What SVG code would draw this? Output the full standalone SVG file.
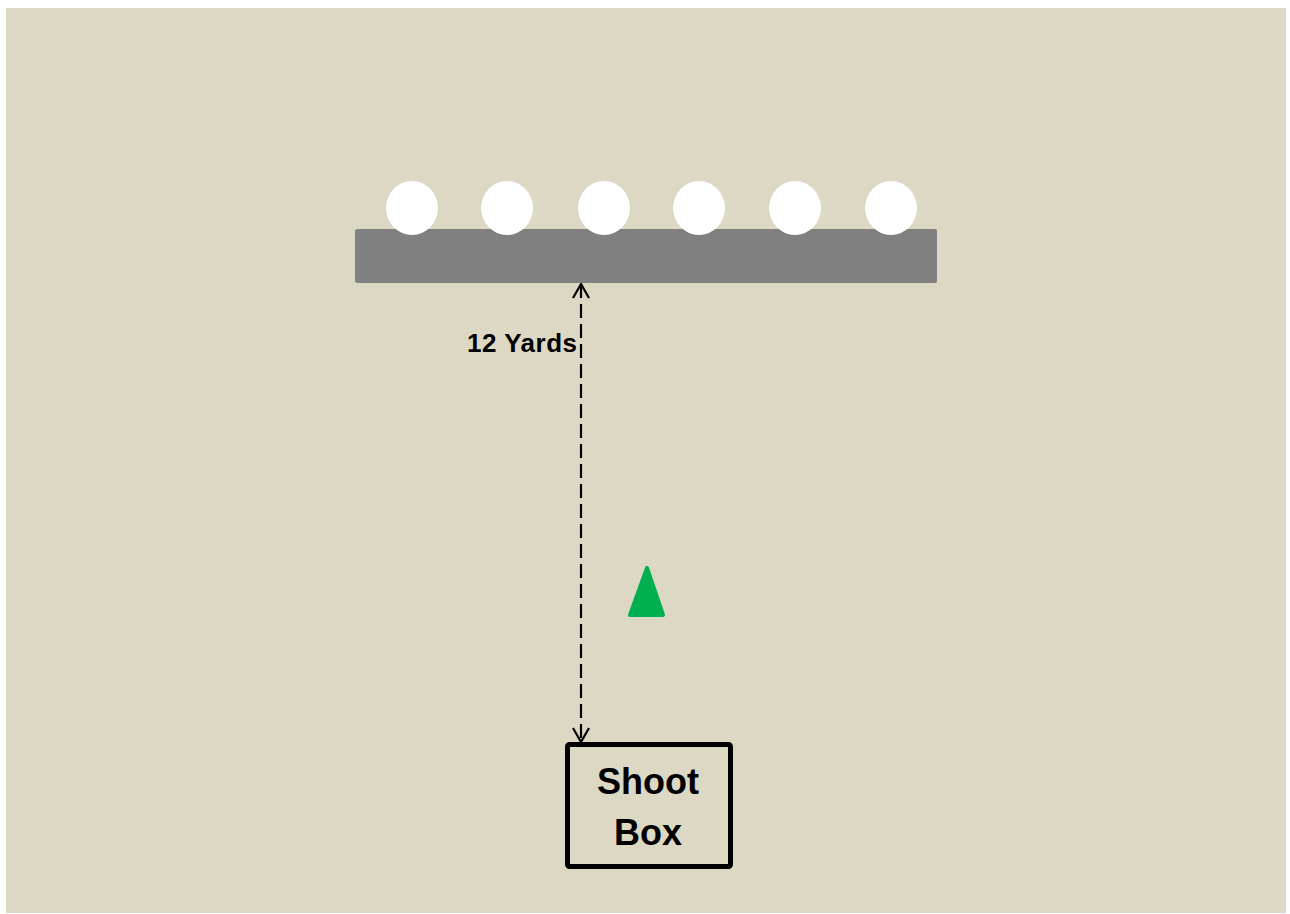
<svg xmlns="http://www.w3.org/2000/svg" width="1290" height="914" viewBox="0 0 1290 914">
<style>
.lbl{font-family:"Liberation Sans",Arial,sans-serif;font-weight:bold;fill:#000}
.target{fill:#fff}
</style>
<defs>
<marker id="open" viewBox="0 0 16 18" refX="15" refY="9" markerWidth="16" markerHeight="18" markerUnits="userSpaceOnUse" orient="auto-start-reverse">
<path d="M1,1 L15,9 L1,17" fill="none" stroke="#000" stroke-width="2.2"/>
</marker>
</defs>
<rect x="0" y="0" width="1290" height="914" fill="#fff"/>
<rect x="6" y="8" width="1280" height="905" fill="#DDD8C3"/>
<g id="bar">
<rect x="355" y="229" width="582" height="54" rx="2" fill="#808080"/>
</g>
<g id="targets">
<ellipse class="target" cx="412" cy="208" rx="26" ry="27"/>
<ellipse class="target" cx="507" cy="208" rx="26" ry="27"/>
<ellipse class="target" cx="604" cy="208" rx="26" ry="27"/>
<ellipse class="target" cx="699" cy="208" rx="26" ry="27"/>
<ellipse class="target" cx="795" cy="208" rx="26" ry="27"/>
<ellipse class="target" cx="891" cy="208" rx="26" ry="27"/>
</g>
<g id="connectors">
<line x1="581" y1="284" x2="581" y2="742" stroke="#000" stroke-width="2.2" stroke-dasharray="14,6" marker-start="url(#open)" marker-end="url(#open)"/>
</g>
<g id="distance-label">
<text class="lbl" x="577" y="352" font-size="26" text-anchor="end" textLength="110">12 Yards</text>
</g>
<g id="cone">
<path d="M647,568 L663,615 L630,615 Z" fill="#00B050" stroke="#00B050" stroke-width="4" stroke-linejoin="round"/>
</g>
<g id="shoot-box">
<rect x="567.5" y="744.5" width="163" height="122" rx="2" fill="none" stroke="#000" stroke-width="5"/>
<text class="lbl" x="648" y="794" font-size="36" text-anchor="middle">Shoot</text>
<text class="lbl" x="648" y="845" font-size="36" text-anchor="middle">Box</text>
</g>
</svg>
